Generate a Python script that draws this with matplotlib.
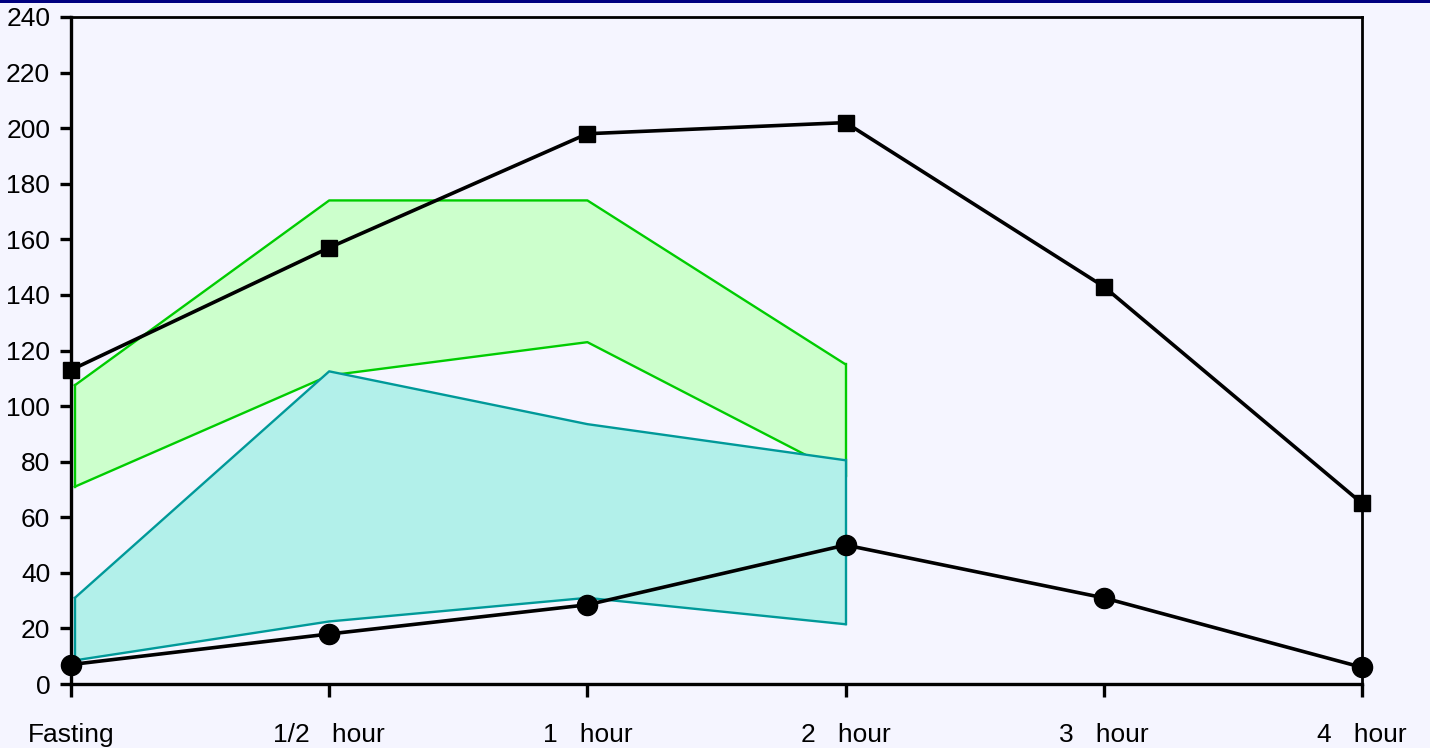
import matplotlib
matplotlib.use("Agg")
import matplotlib.pyplot as plt
from matplotlib.patches import Rectangle

categories = ["Fasting", "1/2   hour", "1   hour", "2   hour", "3   hour", "4   hour"]
upper_series = [113, 157, 198, 202, 143, 65]
lower_series = [7, 18, 28.5, 50, 31, 6]

green_top = [107.5, 174, 174, 115]
green_bottom = [71, 111, 123, 75]
teal_top = [31, 112.5, 93.5, 80.5]
teal_bottom = [8.5, 22.5, 31, 21.5]

y_ticks = list(range(0, 241, 20))

bg = "#F5F5FF"
plt.rcParams['font.family'] = ['Liberation Sans', 'DejaVu Sans']

fig = plt.figure(figsize=(14.3, 7.48), dpi=100, facecolor=bg)
ax = fig.add_axes([71/1430, 64/748, (1362-71)/1430, (684-17)/748])
ax.set_facecolor(bg)

x = list(range(len(categories)))
xb = x[:len(green_top)]
xb = [xb[0] + 0.015] + xb[1:]

ax.fill_between(xb, green_bottom, green_top, facecolor="#CCFFCC", edgecolor="none", zorder=1)
ax.plot(xb, green_top, color="#00CC00", lw=1.7, zorder=2)
ax.plot(xb, green_bottom, color="#00CC00", lw=1.7, zorder=2)
ax.plot([xb[0], xb[0]], [green_bottom[0], green_top[0]], color="#00CC00", lw=1.7, zorder=2)
ax.plot([xb[-1], xb[-1]], [green_bottom[-1], green_top[-1]], color="#00CC00", lw=1.7, zorder=2)

ax.fill_between(xb, teal_bottom, teal_top, facecolor="#B2F0EA", edgecolor="none", zorder=3)
ax.plot(xb, teal_top, color="#009999", lw=1.7, zorder=4)
ax.plot(xb, teal_bottom, color="#009999", lw=1.7, zorder=4)
ax.plot([xb[0], xb[0]], [teal_bottom[0], teal_top[0]], color="#009999", lw=1.7, zorder=4)
ax.plot([xb[-1], xb[-1]], [teal_bottom[-1], teal_top[-1]], color="#009999", lw=1.7, zorder=4)

ax.plot(x, upper_series, color="black", lw=2.6, marker="s", markersize=11.5, zorder=6, clip_on=False)
ax.plot(x, lower_series, color="black", lw=2.6, marker="o", markersize=14.5, zorder=6, clip_on=False)

ax.set_xlim(0, 5)
ax.set_ylim(0, 240)
ax.set_xticks(x)
ax.set_xticklabels(categories)
ax.set_yticks(y_ticks)

for s in ["left", "bottom"]:
    ax.spines[s].set_linewidth(2.4)
for s in ["top", "right"]:
    ax.spines[s].set_linewidth(2.0)
for s in ax.spines.values():
    s.set_zorder(5)

ax.tick_params(axis="y", direction="out", length=8, width=2.4, labelsize=19, pad=7)
ax.tick_params(axis="x", direction="out", length=9, width=2.4, labelsize=19, pad=19)

fig.add_artist(Rectangle((0, 1 - 3/748), 1, 3/748, transform=fig.transFigure,
                         facecolor="#000080", edgecolor="none"))

fig.savefig("out.png", dpi=100, facecolor=bg)
